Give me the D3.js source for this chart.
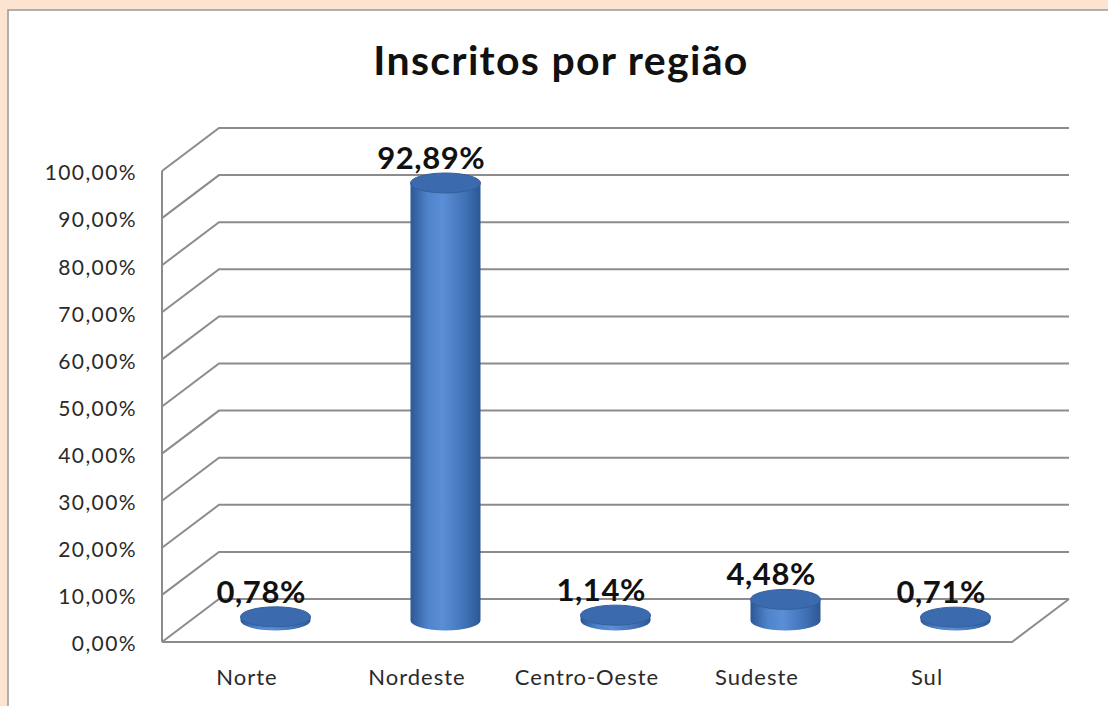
<!DOCTYPE html>
<html>
<head>
<meta charset="utf-8">
<script src="https://cdn.jsdelivr.net/npm/d3@7"></script>
<style>
  body { margin: 0; background: #fce4d0; }
  svg { display: block; }
</style>
</head>
<body>
<svg width="1108" height="706"></svg>
<script>
// data
var categories = ["Norte", "Nordeste", "Centro-Oeste", "Sudeste", "Sul"];
var values = [0.78, 92.89, 1.14, 4.48, 0.71];
var tickValues = [0, 10, 20, 30, 40, 50, 60, 70, 80, 90, 100];
var title = "Inscritos por região";

var svg = d3.select("svg");

// panel
svg.append("rect")
    .attr("x", 8).attr("y", 10)
    .attr("width", 1108).attr("height", 706)
    .attr("fill", "#fff")
    .attr("stroke", "#9a9a9a")
    .attr("stroke-width", 1.5);

// 3d frame: front plane + depth offset
var DX = 57, DY = -43;
var x = d3.scaleBand().domain(categories).range([162, 1012]);
var yFront = d3.scaleLinear().domain([0, 100]).range([642, 171]);

var fmt = function(v) { return d3.format(".2f")(v).replace(".", ",") + "%"; };

var grid = svg.append("g")
    .attr("fill", "none")
    .attr("stroke", "#8c8c8c")
    .attr("stroke-width", 2);

// back wall + left wall gridlines
grid.selectAll("path.gl")
    .data(tickValues)
  .enter().append("path")
    .attr("class", "gl")
    .attr("d", function(d) {
        var y0 = yFront(d);
        return "M" + 162 + "," + y0 + "L" + (162 + DX) + "," + (y0 + DY) + "L" + (x.range()[1] + DX) + "," + (y0 + DY);
    });

// left front edge
grid.append("path")
    .attr("d", "M162," + yFront(0) + "L162," + yFront(100));

// floor front edge + right side
grid.append("path")
    .attr("d", "M162," + yFront(0) + "L" + x.range()[1] + "," + yFront(0) +
               "L" + (x.range()[1] + DX) + "," + (yFront(0) + DY));

// y tick labels
svg.append("g").selectAll("text")
    .data(tickValues)
  .enter().append("text")
    .attr("x", 137)
    .attr("y", function(d) { return yFront(d) + 2; })
    .attr("dy", "0.35em")
    .attr("text-anchor", "end")
    .style("font-family", "Lato")
    .style("font-size", "21px")
    .style("letter-spacing", "1.4px")
    .style("fill", "#2a2a2a")
    .text(function(d) { return fmt(d); });

// category labels
svg.append("g").selectAll("text")
    .data(categories)
  .enter().append("text")
    .attr("x", function(d) { return x(d) + x.bandwidth() / 2; })
    .attr("y", 685)
    .attr("text-anchor", "middle")
    .style("font-family", "Lato")
    .style("font-size", "22px")
    .style("letter-spacing", "1px")
    .style("fill", "#2a2a2a")
    .text(function(d) { return d; });

// cylinder gradient
var defs = svg.append("defs");
var grad = defs.append("linearGradient").attr("id", "cyl")
    .attr("x1", "0%").attr("x2", "100%").attr("y1", "0%").attr("y2", "0%");
grad.append("stop").attr("offset", "0%").attr("stop-color", "#2c5894");
grad.append("stop").attr("offset", "25%").attr("stop-color", "#4f84cc");
grad.append("stop").attr("offset", "45%").attr("stop-color", "#5a8fd6");
grad.append("stop").attr("offset", "80%").attr("stop-color", "#3f70b6");
grad.append("stop").attr("offset", "100%").attr("stop-color", "#2b5792");

var rx = 35, ry = 10;
var mid = 0.5;
var cx = function(d) { return x(d) + x.bandwidth() / 2 + DX * mid; };
var cy = function(v) { return yFront(v) + DY * mid; };

var bars = svg.append("g").selectAll("g")
    .data(categories)
  .enter().append("g");

bars.append("path")
    .attr("fill", "url(#cyl)")
    .attr("d", function(d, i) {
        var x0 = cx(d) - rx, x1 = cx(d) + rx;
        var yt = cy(values[i]), yb = cy(0);
        return "M" + x0 + "," + yt + "L" + x0 + "," + yb +
               "A" + rx + "," + ry + " 0 0 0 " + x1 + "," + yb +
               "L" + x1 + "," + yt + "Z";
    });

bars.append("ellipse")
    .attr("cx", function(d) { return cx(d); })
    .attr("cy", function(d, i) { return cy(values[i]); })
    .attr("rx", rx).attr("ry", ry)
    .attr("fill", "#3b6aae")
    .attr("stroke", "#34609c")
    .attr("stroke-width", 1);

// value labels
svg.append("g").selectAll("text")
    .data(categories)
  .enter().append("text")
    .attr("x", function(d) { return x(d) + x.bandwidth() / 2 + DX * 0.25; })
    .attr("y", function(d, i) { return yFront(values[i]) + DY * 0.25 - 25; })
    .attr("text-anchor", "middle")
    .style("font-family", "Lato")
    .style("font-weight", "bold")
    .style("font-size", "31px")
    .style("letter-spacing", "0.6px")
    .style("fill", "#111")
    .text(function(d, i) { return fmt(values[i]); });

// title
svg.append("text")
    .attr("x", 561)
    .attr("y", 75)
    .attr("text-anchor", "middle")
    .style("font-family", "Lato")
    .style("font-weight", "bold")
    .style("font-size", "41px")
    .style("letter-spacing", "1.3px")
    .style("fill", "#111")
    .text(title);
</script>
</body>
</html>
